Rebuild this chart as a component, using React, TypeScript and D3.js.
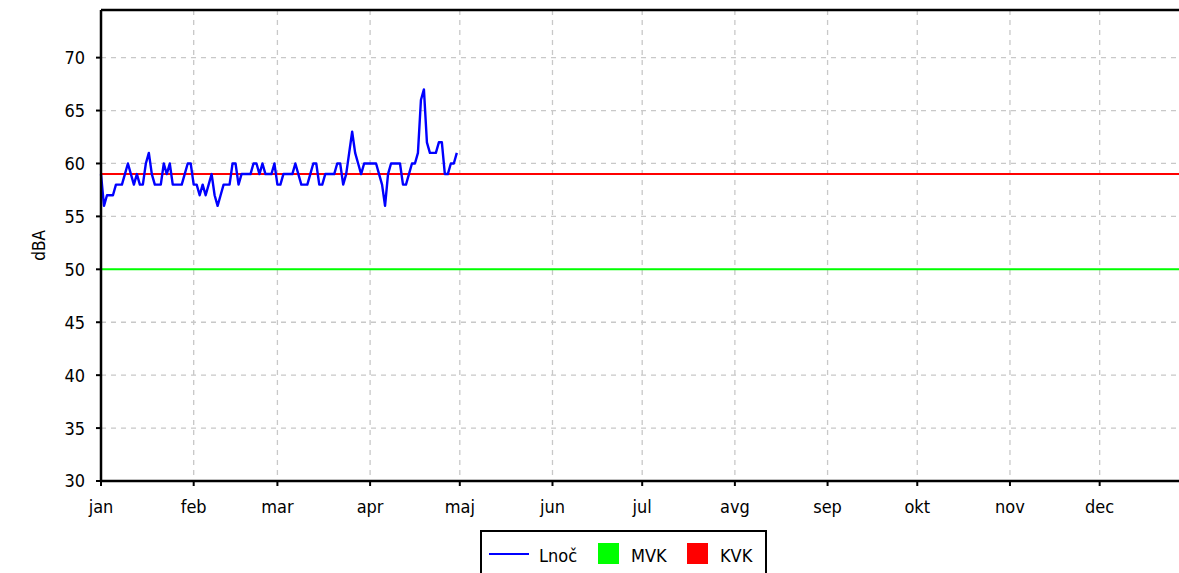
import React from "react";
import * as d3 from "d3";

// Daily Lnoč values from 1 Jan to 30 Apr (dBA)
const lnocValues: number[] = [
  59, 56, 57, 57, 57, 58, 58, 58, 59, 60,
  59, 58, 59, 58, 58, 60, 61, 59, 58, 58,
  58, 60, 59, 60, 58, 58, 58, 58, 59, 60,
  60, 58, 58, 57, 58, 57, 58, 59, 57, 56,
  57, 58, 58, 58, 60, 60, 58, 59, 59, 59,
  59, 60, 60, 59, 60, 59, 59, 59, 60, 58,
  58, 59, 59, 59, 59, 60, 59, 58, 58, 58,
  59, 60, 60, 58, 58, 59, 59, 59, 59, 60,
  60, 58, 59, 61, 63, 61, 60, 59, 60, 60,
  60, 60, 60, 59, 58, 56, 59, 60, 60, 60,
  60, 58, 58, 59, 60, 60, 61, 66, 67, 62,
  61, 61, 61, 62, 62, 59, 59, 60, 60, 61,
];
const startDate = new Date(2023, 0, 1);
const monthLabels = ["jan", "feb", "mar", "apr", "maj", "jun", "jul", "avg", "sep", "okt", "nov", "dec"];
const yTicks = [30, 35, 40, 45, 50, 55, 60, 65, 70];
const mvk = 50;
const kvk = 59;
const legendLabels = ["Lnoč", "MVK", "KVK"];

const W = 1179;
const H = 573;
const FONT = "'DejaVu Sans Condensed', 'DejaVu Sans', sans-serif";

export default function App() {
  const left = 101;
  const top = 10;
  const bottom = 481;
  const x = d3
    .scaleTime()
    .domain([new Date(2023, 0, 1), new Date(2024, 0, 1)])
    .range([left, left + 365 * 2.99]);
  const y = d3.scaleLinear().domain([30, 74.5]).range([bottom, top]);

  const data = lnocValues.map((v, i) => ({ date: d3.timeDay.offset(startDate, i), v }));
  const line = d3
    .line<{ date: Date; v: number }>()
    .x((d) => x(d.date))
    .y((d) => y(d.v));

  const months = d3.range(12).map((m) => new Date(2023, m, 1));
  const right = x(new Date(2024, 0, 1));

  return (
    <svg
      width={W}
      height={H}
      style={{ position: "absolute", left: 0, top: 0, background: "#fff" }}
      fontFamily={FONT}
    >
      <rect x={0} y={0} width={W} height={H} fill="#fff" />
      {/* grid */}
      {yTicks.slice(1).map((t) => (
        <line key={"gy" + t} x1={left} x2={right} y1={y(t)} y2={y(t)} stroke="#c8c8c8" strokeWidth={1.3} strokeDasharray="5,5" />
      ))}
      {months.slice(1).map((m, i) => (
        <line key={"gx" + i} x1={x(m)} x2={x(m)} y1={top} y2={bottom} stroke="#c8c8c8" strokeWidth={1.3} strokeDasharray="5,5" />
      ))}
      {/* threshold lines */}
      <line x1={left} x2={right} y1={y(mvk)} y2={y(mvk)} stroke="#00ff00" strokeWidth={2} />
      <line x1={left} x2={right} y1={y(kvk)} y2={y(kvk)} stroke="#ff0000" strokeWidth={2} />
      {/* data line */}
      <path d={line(data) || ""} fill="none" stroke="#0000ff" strokeWidth={2.4} strokeLinejoin="round" />
      {/* frame */}
      <line x1={left} x2={right} y1={top} y2={top} stroke="#000" strokeWidth={2.5} />
      <line x1={left} x2={right} y1={bottom} y2={bottom} stroke="#000" strokeWidth={2.5} />
      <line x1={left} x2={left} y1={top} y2={bottom} stroke="#000" strokeWidth={2.5} />
      {/* y ticks */}
      {yTicks.map((t) => (
        <g key={"yt" + t}>
          <line x1={left - 5} x2={left} y1={y(t)} y2={y(t)} stroke="#000" strokeWidth={2} />
          <text x={left - 16} y={y(t)} dy="0.36em" textAnchor="end" fontSize={18} fill="#000">
            {t}
          </text>
        </g>
      ))}
      {/* x ticks */}
      {months.map((m, i) => (
        <g key={"xt" + i}>
          <line x1={x(m)} x2={x(m)} y1={bottom} y2={bottom + 5} stroke="#000" strokeWidth={2} />
          <text x={x(m)} y={513} textAnchor="middle" fontSize={18} fill="#000">
            {monthLabels[i]}
          </text>
        </g>
      ))}
      <text transform={`translate(45,${(top + bottom) / 2}) rotate(-90)`} textAnchor="middle" fontSize={17} fill="#000">
        dBA
      </text>
      {/* legend */}
      <rect x={481} y={531} width={285} height={60} fill="#fff" stroke="#000" strokeWidth={2} />
      <line x1={489} x2={529} y1={554} y2={554} stroke="#0000ff" strokeWidth={2} />
      <text x={539} y={562} fontSize={18} fill="#000">{legendLabels[0]}</text>
      <rect x={598} y={543} width={21} height={21} fill="#00ff00" />
      <text x={631} y={562} fontSize={18} fill="#000">{legendLabels[1]}</text>
      <rect x={687} y={543} width={21} height={21} fill="#ff0000" />
      <text x={720} y={562} fontSize={18} fill="#000">{legendLabels[2]}</text>
    </svg>
  );
}
